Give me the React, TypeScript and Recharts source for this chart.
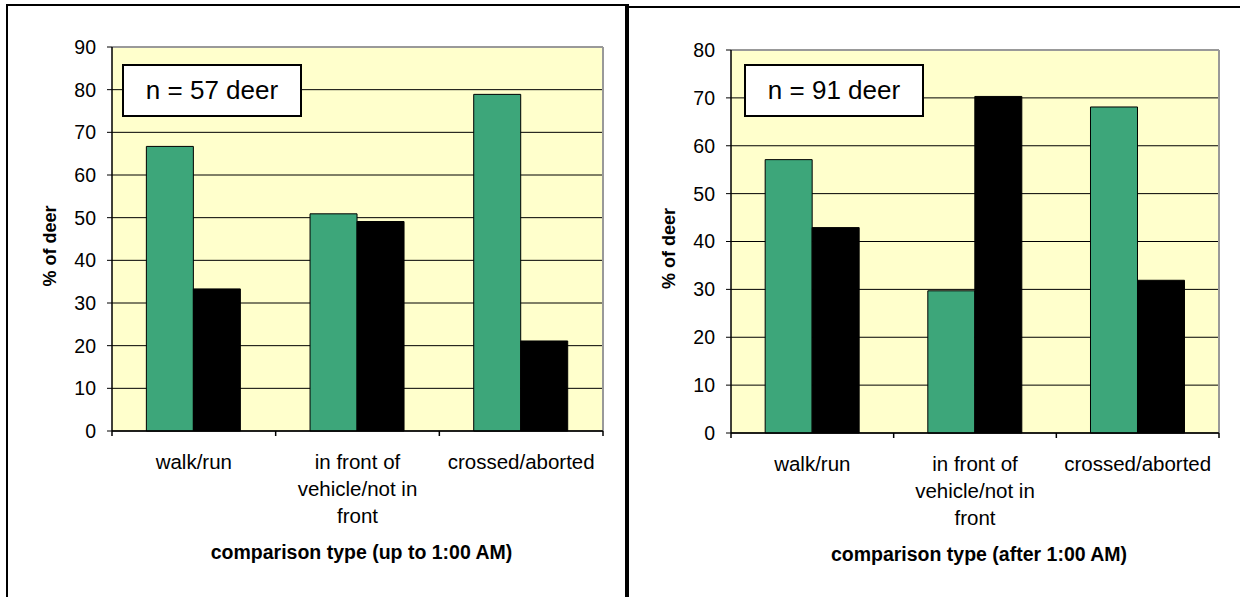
import { BarChart, Bar, XAxis, YAxis, CartesianGrid, Label } from 'recharts';

// comparison categories (x axis) and how the labels wrap under the axis
const categories = ['walk/run', 'in front of vehicle/not in front', 'crossed/aborted'];
const categoryLines = [['walk/run'], ['in front of', 'vehicle/not in', 'front'], ['crossed/aborted']];

// % of deer, up to 1:00 AM (n = 57)
const earlyFirst = [66.7, 50.9, 78.9];
const earlySecond = [33.3, 49.1, 21.1];
const earlyTicks = [0, 10, 20, 30, 40, 50, 60, 70, 80, 90];

// % of deer, after 1:00 AM (n = 91)
const lateFirst = [57.1, 29.7, 68.1];
const lateSecond = [42.9, 70.3, 31.9];
const lateTicks = [0, 10, 20, 30, 40, 50, 60, 70, 80];

const FONT = '"Liberation Sans", Arial, sans-serif';
const GREEN = '#3da67a';
const PLOT_BG = '#ffffcc';

const CategoryTick = (props: any) => {
  const { x, y, payload, index } = props;
  const i = index ?? payload?.index ?? 0;
  const half = payload?.offset ?? 81;
  const lines = categoryLines[i] ?? [String(payload?.value)];
  return (
    <g>
      <line x1={x - half} x2={x - half} y1={y} y2={y + 5} stroke="#000" strokeWidth={1.5} />
      {i === categories.length - 1 && (
        <line x1={x + half} x2={x + half} y1={y} y2={y + 5} stroke="#000" strokeWidth={1.5} />
      )}
      <text x={x} y={y} textAnchor="middle" fontSize={20.5} fill="#000" fontFamily={FONT}>
        {lines.map((line, k) => (
          <tspan key={k} x={x} dy={k === 0 ? 38 : 27}>
            {line}
          </tspan>
        ))}
      </text>
    </g>
  );
};

interface PanelProps {
  first: number[];
  second: number[];
  ticks: number[];
  title: string;
  width: number;
  top: number;
  right: number;
  bottom: number;
}

const Panel = ({ first, second, ticks, title, width, top, right, bottom }: PanelProps) => {
  const data = categories.map((name, i) => ({ name, first: first[i], second: second[i] }));
  return (
    <BarChart
      width={width}
      height={597}
      data={data}
      margin={{ top, right, bottom, left: 0 }}
      barCategoryGap="21%"
      barGap={0}
    >
      <CartesianGrid vertical={false} stroke="#000" fill={PLOT_BG} fillOpacity={1} />
      <CartesianGrid
        stroke="#999"
        strokeWidth={2}
        horizontalCoordinatesGenerator={({ offset }: any) => [offset.top]}
        verticalCoordinatesGenerator={({ offset }: any) => [offset.left + offset.width]}
      />
      <XAxis
        dataKey="name"
        height={140}
        interval={0}
        tickLine={false}
        tickSize={0}
        tickMargin={0}
        axisLine={{ stroke: '#000', strokeWidth: 1.5 }}
        tick={<CategoryTick />}
      >
        <Label
          content={(p: any) => {
            const vb = p.viewBox ?? {};
            return (
              <text
                x={(vb.x ?? 0) + (vb.width ?? 0) / 2 + 4}
                y={(vb.y ?? 0) + 128}
                textAnchor="middle"
                fontSize={19.5}
                fontWeight="bold"
                fill="#000"
                fontFamily={FONT}
              >
                {title}
              </text>
            );
          }}
        />
      </XAxis>
      <YAxis
        width={112}
        domain={[ticks[0], ticks[ticks.length - 1]]}
        ticks={ticks}
        interval={0}
        tickSize={5}
        tickMargin={11}
        tickLine={{ stroke: '#000' }}
        axisLine={{ stroke: '#000', strokeWidth: 1.5 }}
        tick={{ fill: '#000', fontSize: 19.5, fontFamily: FONT }}
      >
        <Label
          content={(p: any) => {
            const vb = p.viewBox ?? {};
            const cx = (vb.x ?? 0) + 50;
            const cy = (vb.y ?? 0) + (vb.height ?? 0) / 2 + 7;
            return (
              <text
                x={cx}
                y={cy}
                transform={`rotate(-90 ${cx} ${cy})`}
                textAnchor="middle"
                dominantBaseline="central"
                fontSize={18}
                fontWeight="bold"
                fill="#000"
                fontFamily={FONT}
              >
                % of deer
              </text>
            );
          }}
        />
      </YAxis>
      <Bar dataKey="first" fill={GREEN} stroke="#000" strokeWidth={1} isAnimationActive={false} />
      <Bar dataKey="second" fill="#000" stroke="#000" strokeWidth={1} isAnimationActive={false} />
    </BarChart>
  );
};

const noteBox = (left: number, text: string) => (
  <div
    style={{
      position: 'absolute',
      left,
      top: 64,
      width: 176,
      height: 49,
      border: '2px solid #000',
      background: '#fff',
      display: 'flex',
      alignItems: 'center',
      justifyContent: 'center',
      fontSize: 26,
      fontFamily: FONT,
      color: '#000',
    }}
  >
    {text}
  </div>
);

export default function App() {
  return (
    <div
      style={{
        position: 'absolute',
        left: 0,
        top: 0,
        width: 1240,
        height: 597,
        overflow: 'hidden',
        background: '#fff',
        fontFamily: FONT,
      }}
    >
      <div
        style={{
          position: 'absolute',
          left: 6,
          top: 4,
          width: 619,
          height: 700,
          borderLeft: '2px solid #000',
          borderTop: '2px solid #000',
          borderRight: '2px solid #000',
        }}
      />
      <div
        style={{
          position: 'absolute',
          left: 625,
          top: 6,
          width: 700,
          height: 700,
          borderLeft: '2px solid #000',
          borderTop: '2px solid #000',
        }}
      />
      <div style={{ position: 'absolute', left: 0, top: 0 }}>
        <Panel
          first={earlyFirst}
          second={earlySecond}
          ticks={earlyTicks}
          title="comparison type (up to 1:00 AM)"
          width={628}
          top={47}
          right={25}
          bottom={26}
        />
      </div>
      <div style={{ position: 'absolute', left: 619, top: 0 }}>
        <Panel
          first={lateFirst}
          second={lateSecond}
          ticks={lateTicks}
          title="comparison type (after 1:00 AM)"
          width={621}
          top={50}
          right={21}
          bottom={24}
        />
      </div>
      {noteBox(122, 'n = 57 deer')}
      {noteBox(744, 'n = 91 deer')}
    </div>
  );
}
